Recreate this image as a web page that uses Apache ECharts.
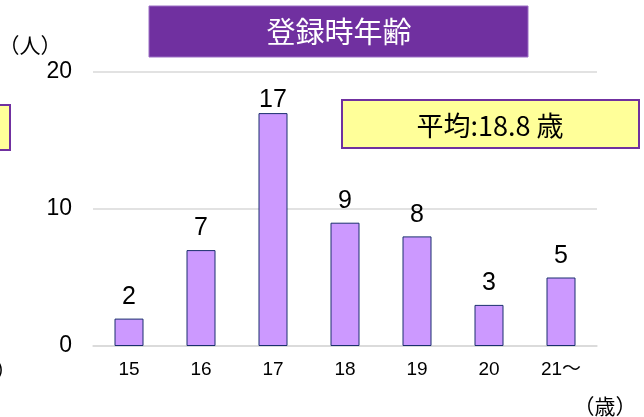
<!DOCTYPE html>
<html>
<head>
<meta charset="utf-8">
<script src="https://cdn.jsdelivr.net/npm/echarts@6/dist/echarts.min.js"></script>
<style>
html,body{margin:0;padding:0;background:#fff;}
#main_chart{width:644px;height:417px;}
</style>
</head>
<body>
<div id="main_chart"></div>
<script>
// 年齢カテゴリと人数
var ageCategories = ['15', '16', '17', '18', '19', '20', '21～'];
var ageCounts = [2, 7, 17, 9, 8, 3, 5];
var yTicks = [0, 10, 20];
var titleText = '登録時年齢';
var avgText = '平均:18.8 歳';

var fontJp = '"Noto Sans CJK JP", sans-serif';
var fontNum = '"Liberation Sans", Arial, "Noto Sans CJK JP", sans-serif';

var myChart = echarts.init(document.getElementById('main_chart'));

// 17 のラベルは棒の上にくっつく
var barData = [];
for (var i = 0; i < ageCounts.length; i++) {
    var item = { value: ageCounts[i] };
    if (ageCounts[i] == 17) {
        item.label = { distance: 0 };
    }
    barData.push(item);
}

var option = {
    animation: false,
    backgroundColor: '#ffffff',
    grid: {
        left: 93,
        right: 47,
        top: 72,
        bottom: 71
    },
    xAxis: {
        type: 'category',
        data: ageCategories,
        axisLine: { show: true, lineStyle: { color: '#d9d9d9', width: 1.5 } },
        axisTick: { show: false },
        axisLabel: {
            color: '#000',
            fontSize: 19,
            fontFamily: fontNum,
            margin: 14
        }
    },
    yAxis: {
        type: 'value',
        min: yTicks[0],
        max: yTicks[yTicks.length - 1],
        interval: 10,
        axisLine: { show: false },
        axisTick: { show: false },
        splitLine: { lineStyle: { color: '#d9d9d9', width: 1.5 } },
        axisLabel: {
            color: '#000',
            fontSize: 23,
            fontFamily: fontNum,
            margin: 21
        }
    },
    series: [{
        type: 'bar',
        data: barData,
        barWidth: 29,
        itemStyle: {
            color: '#cc99ff',
            borderColor: '#1a2f6e',
            borderWidth: 1
        },
        label: {
            show: true,
            position: 'top',
            distance: 9,
            color: '#000',
            fontSize: 25,
            fontFamily: fontNum
        }
    }],
    graphic: [
        {
            type: 'rect',
            shape: { x: 149, y: 6, width: 379, height: 51 },
            style: { fill: '#7030a0', stroke: '#9b6fc4', lineWidth: 1 }
        },
        {
            type: 'text',
            x: 339, y: 32,
            style: {
                text: titleText,
                fill: '#ffffff',
                font: '29px ' + fontJp,
                align: 'center',
                verticalAlign: 'middle'
            }
        },
        {
            type: 'rect',
            shape: { x: 342, y: 100, width: 297, height: 48 },
            style: { fill: '#ffff99', stroke: '#7030a0', lineWidth: 2 }
        },
        {
            type: 'text',
            x: 490, y: 126,
            style: {
                text: avgText,
                fill: '#000',
                font: '27px ' + fontJp,
                align: 'center',
                verticalAlign: 'middle'
            }
        },
        {
            type: 'rect',
            shape: { x: -5, y: 105, width: 15, height: 45 },
            style: { fill: '#ffff99', stroke: '#7030a0', lineWidth: 2 }
        },
        {
            type: 'text',
            x: 30, y: 45,
            style: {
                text: '（人）',
                fill: '#000',
                font: '21px ' + fontJp,
                align: 'center',
                verticalAlign: 'middle'
            }
        },
        {
            type: 'text',
            x: -15, y: 370,
            style: {
                text: '（人）',
                fill: '#000',
                font: '21px ' + fontJp,
                align: 'center',
                verticalAlign: 'middle'
            }
        },
        {
            type: 'text',
            x: 605, y: 406,
            style: {
                text: '（歳）',
                fill: '#000',
                font: '21px ' + fontJp,
                align: 'center',
                verticalAlign: 'middle'
            }
        }
    ]
};

myChart.setOption(option);
</script>
</body>
</html>
